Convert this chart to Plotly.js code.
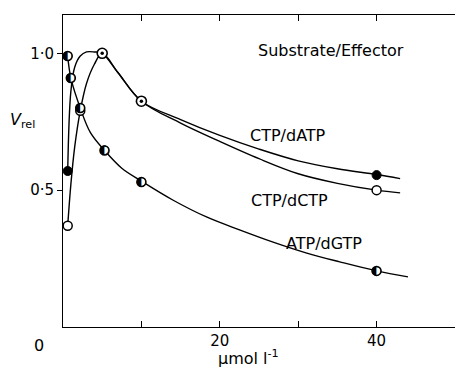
<!DOCTYPE html>
<html><head><meta charset="utf-8">
<script src="https://cdn.plot.ly/plotly-3.0.1.min.js"></script>
<style>html,body{margin:0;padding:0;background:#fff}</style>
</head><body><div id="chart" style="width:457px;height:371px"></div>
<script>
// Data (x in µmol l^-1, y = V_rel)
const dATP_ptsX = [0.6, 40];
const dATP_ptsY = [0.57, 0.555];
const dATP_curveX = [0.6, 1.0, 1.5, 2.2, 3.0, 4.0, 5.0, 7.0, 10, 15, 20, 25, 30, 35, 40, 43];
const dATP_curveY = [0.57, 0.86, 0.95, 0.99, 1.005, 1.005, 1.0, 0.93, 0.825, 0.758, 0.70, 0.65, 0.607, 0.578, 0.557, 0.542];

const dCTP_ptsX = [0.6, 2.2, 40];
const dCTP_ptsY = [0.37, 0.79, 0.50];
const dCTP_curveX = [0.6, 1.0, 1.5, 2.2, 3.0, 4.0, 5.0, 7.0, 10, 15, 20, 25, 30, 35, 40, 43];
const dCTP_curveY = [0.37, 0.52, 0.66, 0.79, 0.89, 0.96, 1.0, 0.93, 0.825, 0.745, 0.678, 0.615, 0.56, 0.525, 0.50, 0.49];

const shared_ptsX = [5.0, 10];
const shared_ptsY = [1.0, 0.825];

const dGTP_ptsX = [0.6, 1.0, 2.2, 5.3, 10, 40];
const dGTP_ptsY = [0.99, 0.91, 0.80, 0.645, 0.53, 0.205];
const dGTP_curveX = [0.6, 1.0, 2.2, 3.5, 5.3, 7.5, 10, 14, 18.3, 22.6, 26.8, 31.1, 35.3, 40, 44];
const dGTP_curveY = [0.99, 0.91, 0.80, 0.71, 0.645, 0.58, 0.533, 0.464, 0.402, 0.354, 0.31, 0.27, 0.238, 0.205, 0.183];

const xTickVals = [10, 20, 30, 40];
const xTickText = ['', '20', '', '40'];
const yTickVals = [0.5, 1.0];
const yTickText = ['0·5', '1·0'];

const FONT = 'DejaVu Sans, Liberation Sans, sans-serif';
const lineStyle = {color: '#000', width: 1.4, shape: 'spline', smoothing: 1};

const traces = [
  {x: dATP_curveX, y: dATP_curveY, mode: 'lines', line: lineStyle, hoverinfo: 'skip'},
  {x: dCTP_curveX, y: dCTP_curveY, mode: 'lines', line: lineStyle, hoverinfo: 'skip'},
  {x: dGTP_curveX, y: dGTP_curveY, mode: 'lines', line: lineStyle, hoverinfo: 'skip'},
  {x: dCTP_ptsX, y: dCTP_ptsY, mode: 'markers',
   marker: {symbol: 'circle', size: 9, color: '#fff', line: {color: '#000', width: 1.5}}},
  {x: dATP_ptsX, y: dATP_ptsY, mode: 'markers',
   marker: {symbol: 'circle', size: 9, color: '#000', line: {color: '#000', width: 1}}},
  // half-filled markers: white disc under a left-half-black glyph
  {x: dGTP_ptsX, y: dGTP_ptsY, mode: 'markers',
   marker: {symbol: 'circle', size: 9, color: '#fff', line: {color: '#000', width: 1.5}}},
  {x: dGTP_ptsX, y: dGTP_ptsY, mode: 'text', text: dGTP_ptsX.map(() => '◐'),
   textposition: 'middle center', textfont: {family: 'DejaVu Sans', size: 12, color: '#000'}},
  {x: shared_ptsX, y: shared_ptsY, mode: 'markers',
   marker: {symbol: 'circle', size: 10, color: '#fff', line: {color: '#000', width: 1.6}}},
  {x: shared_ptsX, y: shared_ptsY, mode: 'markers',
   marker: {symbol: 'circle', size: 3.5, color: '#000', line: {width: 0}}}
];

const layout = {
  width: 457, height: 371,
  margin: {l: 63, r: 2, t: 15, b: 44},
  paper_bgcolor: '#fff', plot_bgcolor: '#fff',
  showlegend: false,
  font: {family: FONT, size: 16, color: '#000'},
  xaxis: {range: [0, 50], showgrid: false, zeroline: false, showline: true, linecolor: '#000', linewidth: 1,
          mirror: 'ticks', ticks: 'inside', ticklen: 6, tickcolor: '#000', tickwidth: 1,
          tickvals: xTickVals, ticktext: xTickText, tickfont: {family: FONT, size: 15}},
  yaxis: {range: [0, 1.14], showgrid: false, zeroline: false, showline: true, linecolor: '#000', linewidth: 1,
          ticks: 'outside', ticklen: 5, tickcolor: '#000', tickwidth: 1,
          tickvals: yTickVals, ticktext: yTickText, tickfont: {family: FONT, size: 15}},
  annotations: [
    {text: 'Substrate/Effector', x: 331, y: 50},
    {text: 'CTP/dATP', x: 288, y: 135},
    {text: 'CTP/dCTP', x: 289, y: 200},
    {text: 'ATP/dGTP', x: 324, y: 243},
    {text: '0', x: 39, y: 345},
    {text: 'μmol l<sup>-1</sup>', x: 248, y: 357},
    {text: '<i>V</i><sub>rel</sub>', x: 22, y: 120}
  ].map(a => {
    const pw = 457 - 63 - 2, ph = 371 - 15 - 44;
    return {text: a.text, xref: 'paper', yref: 'paper',
            x: (a.x - 63) / pw, y: 1 - (a.y - 15) / ph,
            xanchor: 'center', yanchor: 'middle', showarrow: false,
            font: {family: FONT, size: 16, color: '#000'}};
  })
};

Plotly.newPlot('chart', traces, layout, {displayModeBar: false, staticPlot: true});
</script>
</body></html>
